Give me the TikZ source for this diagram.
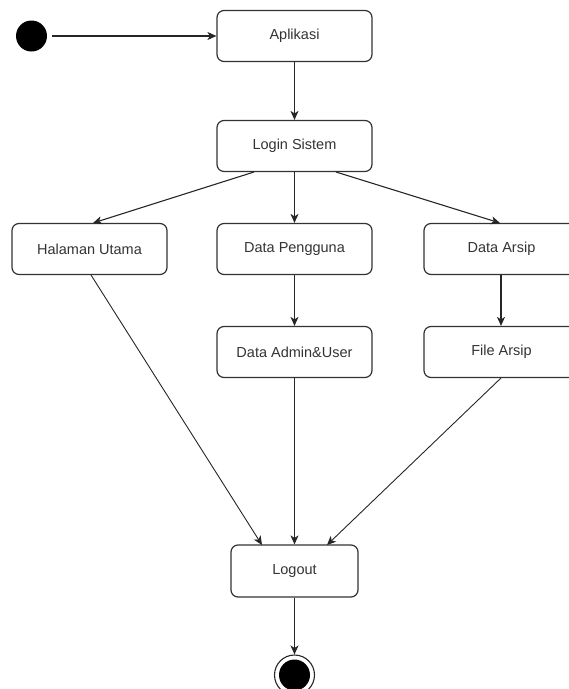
\documentclass[tikz,border=0pt]{standalone}
\usepackage{fontspec}
\setmainfont{Liberation Sans}
\usetikzlibrary{arrows.meta}
\begin{document}
\begin{tikzpicture}[x=1pt,y=-1pt,
  act/.style={draw=black!80, line width=1.2pt, rounded corners=7pt, minimum height=51pt, inner sep=0pt,
    font=\fontsize{14.5}{17}\selectfont, text=black!80},
  flow/.style={draw=black!85, line width=1.1pt, -{Stealth[length=9pt,width=8pt,inset=2.5pt]}},
  thin/.style={draw=black!85, line width=0.9pt, -{Stealth[length=9pt,width=8pt,inset=2.5pt]}}]
\useasboundingbox (0,0) rectangle (569,689);
\clip (0,0) rectangle (569,689);
\node[circle, fill=black, minimum size=31pt, inner sep=0pt] (start) at (31.5,36) {};
\node[act, minimum width=155pt] (apl) at (294.5,36) {Aplikasi};
\node[act, minimum width=155pt] (login) at (294.5,146) {Login Sistem};
\node[act, minimum width=155pt] (hal) at (89.5,249) {Halaman Utama};
\node[act, minimum width=155pt] (peng) at (294.5,249) {Data Pengguna};
\node[act, minimum width=155pt] (arsip) at (501.5,249) {Data Arsip};
\node[act, minimum width=155pt] (admin) at (294.5,352) {Data Admin\&User};
\node[act, minimum width=155pt] (file) at (501.5,352) {File Arsip};
\node[act, minimum width=127pt, minimum height=52pt] (logout) at (294.5,571) {Logout};
\node[circle, draw=black!85, line width=1.1pt, minimum size=40pt, inner sep=0pt] (end) at (294.5,675) {};
\node[circle, fill=black, minimum size=31pt, inner sep=0pt] (endin) at (end.center) {};
\coordinate (l1) at (254,172);
\coordinate (l2) at (336,172);
\coordinate (h1) at (91,275);
\coordinate (f1) at (501,378);
\coordinate (g1) at (262,545);
\coordinate (g3) at (327,545);
\coordinate (hh) at (93,223);
\coordinate (aa) at (500,223);
\draw[flow] ([xshift=5pt]start.east) -- (apl.west);
\draw[flow] (apl.south) -- (login.north);
\draw[flow] (l1) -- (hh);
\draw[flow] (login.south) -- (peng.north);
\draw[flow] (l2) -- (aa);
\draw[flow] (peng.south) -- (admin.north);
\draw[flow] (arsip.south -| f1) -- (file.north -| f1);
\draw[thin] (h1) -- (g1);
\draw[flow] (admin.south) -- (logout.north);
\draw[thin] (f1) -- (g3);
\draw[flow] (logout.south) -- (end.north);
\end{tikzpicture}
\end{document}
